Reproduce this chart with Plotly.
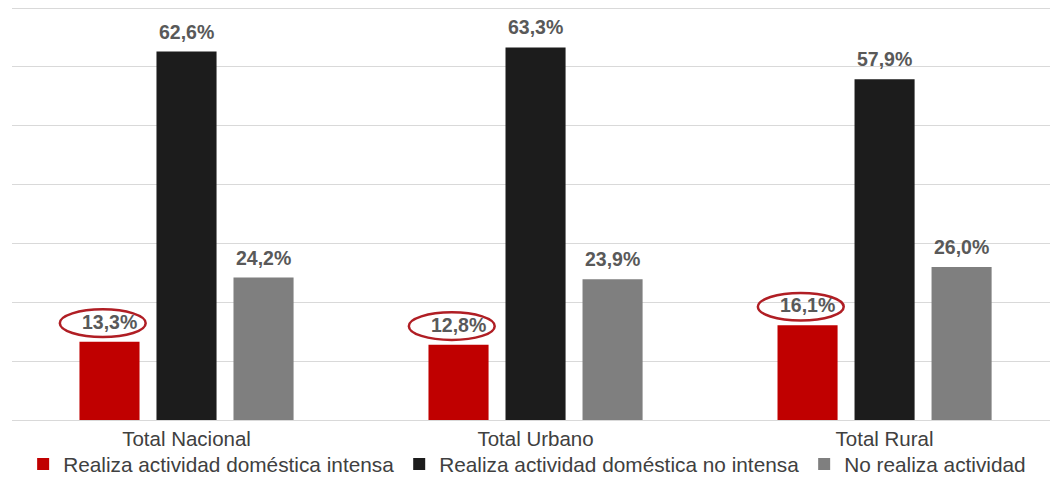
import plotly.graph_objects as go

categories = ["Total Nacional", "Total Urbano", "Total Rural"]
series_names = [
    "Realiza actividad doméstica intensa",
    "Realiza actividad doméstica no intensa",
    "No realiza actividad",
]
intensa = [13.3, 12.8, 16.1]
no_intensa = [62.6, 63.3, 57.9]
no_realiza = [24.2, 23.9, 26.0]
colors = ["#C00000", "#1C1C1C", "#7F7F7F"]

series = [intensa, no_intensa, no_realiza]

BARGAP = 0.338
GROUPGAP = 0.22
slot = (1 - BARGAP) / 3

fig = go.Figure()
for name, vals, col in zip(series_names, series, colors):
    fig.add_trace(go.Bar(
        x=categories, y=vals, name=name,
        marker=dict(color=col, line=dict(width=0)),
    ))

annotations = []
shapes = []
for k, vals in enumerate(series):
    for i, v in enumerate(vals):
        annotations.append(dict(
            x=i + (k - 1) * slot, y=v, xref="x", yref="y",
            text=f"{v:.1f}%".replace(".", ","), showarrow=False,
            yanchor="bottom", yshift=7,
            font=dict(family="Liberation Sans, Arial", size=19.5, color="#595959", weight="bold"),
        ))
        if k == 0:
            shapes.append(dict(
                type="circle", xref="x", yref="y",
                x0=i - 0.24 - 0.123, x1=i - 0.24 + 0.123,
                y0=v + 0.8, y1=v + 5.5,
                line=dict(color="#B01E24", width=2.5),
                fillcolor="rgba(0,0,0,0)",
            ))

fig.update_layout(
    width=1052, height=477,
    margin=dict(l=12, r=2, t=6, b=57, autoexpand=False),
    paper_bgcolor="white", plot_bgcolor="white",
    barmode="group", bargap=BARGAP, bargroupgap=GROUPGAP,
    separators=",.",
    font=dict(family="Liberation Sans, Arial", color="#404040"),
    annotations=annotations,
    shapes=shapes,
    showlegend=True,
    legend=dict(
        orientation="h", xref="container", yref="container",
        x=0.022, y=0.026, xanchor="left", yanchor="middle",
        font=dict(size=20.8, color="#404040"),
        itemwidth=30, bgcolor="rgba(0,0,0,0)",
    ),
    xaxis=dict(
        range=[-0.5, 2.474], showgrid=False, showline=False,
        ticks="", tickfont=dict(size=20.5, color="#404040"),
        ticklabelstandoff=4,
    ),
    yaxis=dict(
        range=[0, 70.35], dtick=10, showticklabels=False,
        showgrid=True, gridcolor="#D9D9D9", gridwidth=1,
        zeroline=True, zerolinecolor="#D9D9D9", zerolinewidth=1,
        showline=False,
    ),
)

fig.write_html("out.html")
